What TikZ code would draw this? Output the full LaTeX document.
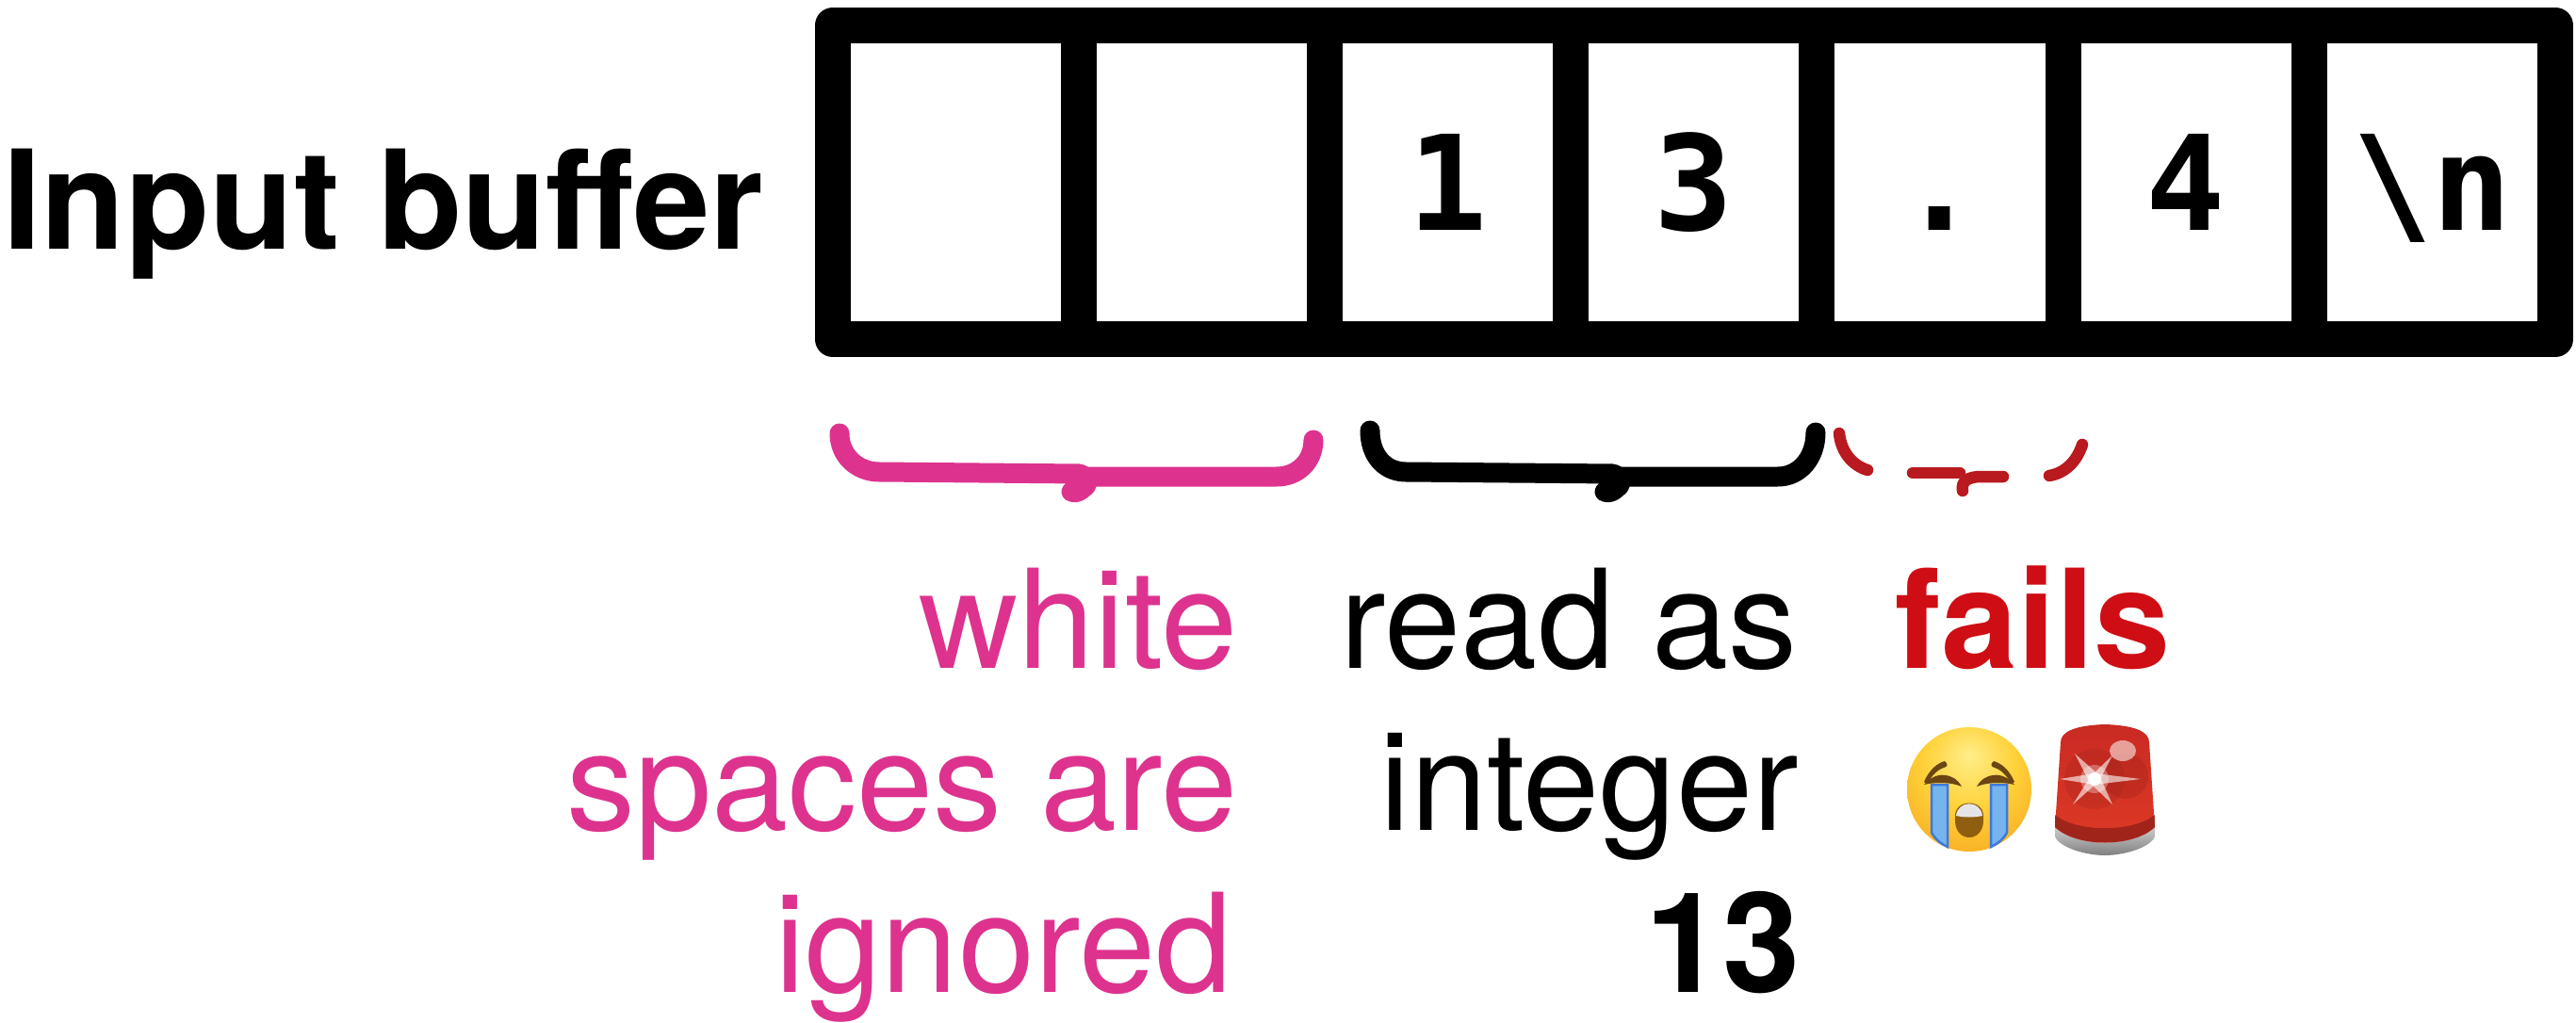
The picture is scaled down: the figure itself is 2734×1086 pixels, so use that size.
\documentclass[tikz,border=0pt]{standalone}
\usepackage{fontspec}
\setmainfont{TeX Gyre Heros}
\newfontfamily\cellfont{DejaVu Sans Mono}
\definecolor{pinkc}{HTML}{DD338E}
\definecolor{bracered}{HTML}{B81A1F}
\definecolor{failred}{HTML}{CF0D14}
\definecolor{fa}{HTML}{FFEE8A}
\definecolor{fb}{HTML}{FFD23A}
\definecolor{fc}{HTML}{F8AC22}
\definecolor{fd}{HTML}{D98C12}
\definecolor{browc}{HTML}{6B4612}
\definecolor{tearf}{HTML}{76B4EE}
\definecolor{teard}{HTML}{3D78DC}
\definecolor{mouthc}{HTML}{8F5E10}
\definecolor{sirtop}{HTML}{C92A22}
\definecolor{sirmid}{HTML}{D9463A}
\definecolor{sirlow}{HTML}{DE3A26}
\definecolor{sirband}{HTML}{8E1E18}
\pgfdeclareradialshading{facegrad}{\pgfpoint{0bp}{14bp}}{
 color(0bp)=(fa); color(18bp)=(fb); color(36bp)=(fc); color(52bp)=(fd); color(70bp)=(fd)}
\tikzset{
 cellbox/.style={draw=black,line width=38,line join=round,minimum width=261.2,minimum height=333,inner sep=0,text height=101,text depth=0,font=\cellfont\bfseries\fontsize{140}{140}\selectfont,align=center},
 bigtext/.style={anchor=base east,inner sep=0,font=\fontsize{146}{146}\selectfont},
 boldtext/.style={anchor=base east,inner sep=0,font=\bfseries\fontsize{148}{148}\selectfont},
 bracepink/.style={draw=pinkc,line width=21,line cap=round,line join=round},
 braceblack/.style={draw=black,line width=21,line cap=round,line join=round},
 bracefail/.style={draw=bracered,line width=12.5,line cap=round,line join=round},
 flare/.style={fill=white,opacity=.6}
}
\begin{document}
\begin{tikzpicture}[x=1pt,y=-1pt]
\useasboundingbox (0,0) rectangle (2734,1086);
% title
\node[anchor=base west,inner sep=0,font=\bfseries\fontsize{146}{146}\selectfont] (title) at (3,265) {Input buffer};
% cells
\node[cellbox] (c1) at (1014.3,193.5) {};
\node[cellbox] (c2) at (1275.3,193.5) {};
\node[cellbox] (c3) at (1536.5,193.5) {1};
\node[cellbox] (c4) at (1797.7,193.5) {3};
\node[cellbox] (c5) at (2058.9,193.5) {.};
\node[cellbox] (c6) at (2320.1,193.5) {4};
\node[cellbox] (c7) at (2581.8,193.5) {\textbackslash n};
% pink brace
\draw[bracepink] (891,460) .. controls (891,484) and (910,501) .. (933,501) -- (1146,503) .. controls (1156,507) and (1156,514) .. (1150,518) .. controls (1146,522) and (1141,524) .. (1137,522);
\draw[bracepink] (1394,467) .. controls (1394,490) and (1377,506) .. (1355,506) -- (1156,506);
% black brace
\draw[braceblack] (1454,457) .. controls (1454,484) and (1470,501) .. (1492,501) -- (1712,503) .. controls (1722,507) and (1722,514) .. (1716,518) .. controls (1712,522) and (1707,524) .. (1703,522);
\draw[braceblack] (1927,459) .. controls (1927,486) and (1910,506) .. (1887,506) -- (1720,506);
% failing brace
\draw[bracefail] (1952,460) .. controls (1954,480) and (1966,494) .. (1982,499);
\draw[bracefail] (2030,502) -- (2080,502);
\draw[bracefail] (2083,521) .. controls (2081,510) and (2090,506) .. (2103,506) -- (2126,506);
\draw[bracefail] (2210,472) .. controls (2204,490) and (2192,502) .. (2175,505);
% texts
\node[bigtext,text=pinkc] (w1) at (1314,709) {white};
\node[bigtext,text=pinkc] (w2) at (1314,881) {spaces are};
\node[bigtext,text=pinkc] (w3) at (1308,1053) {ignored};
\node[bigtext] (r1) at (1908,709) {read as};
\node[bigtext] (r2) at (1909,881) {integer};
\node[boldtext] (r3) at (1911,1053) {13};
\node[boldtext,text=failred,font=\bfseries\fontsize{146}{146}\selectfont] (f1) at (2304,709) {fails};
% crying face
\begin{scope}[shift={(2090,838)}]
\shade[shading=facegrad] (0,0) circle (66);
\fill[browc] (-48,-8) .. controls (-42,-22) and (-33,-28) .. (-26,-30) .. controls (-22,-27) and (-23,-24) .. (-27,-23) .. controls (-34,-21) and (-40,-14) .. (-45,-6) -- cycle;
\fill[browc] (48,-8) .. controls (42,-22) and (33,-28) .. (26,-30) .. controls (22,-27) and (23,-24) .. (27,-23) .. controls (34,-21) and (40,-14) .. (45,-6) -- cycle;
\fill[browc] (-48,-5) .. controls (-36,-20) and (-16,-18) .. (-8,-3) .. controls (-20,-8) and (-36,-8) .. (-48,-5) -- cycle;
\fill[browc] (48,-5) .. controls (36,-20) and (16,-18) .. (8,-3) .. controls (20,-8) and (36,-8) .. (48,-5) -- cycle;
\fill[tearf,draw=teard,line width=2.5] (-40,-5) -- (-23,-5) -- (-23,61) .. controls (-30,58) and (-36,53) .. (-40,46) -- cycle;
\fill[tearf,draw=teard,line width=2.5] (40,-5) -- (23,-5) -- (23,61) .. controls (30,58) and (36,53) .. (40,46) -- cycle;
\fill[mouthc] (-15,28) .. controls (-15,10) and (15,10) .. (15,28) -- (15,33) .. controls (15,57) and (-15,57) .. (-15,33) -- cycle;
\fill[white!90!black] (-14,28) .. controls (-12,11) and (12,11) .. (14,28) .. controls (5,30) and (-5,30) .. (-14,28) -- cycle;
\end{scope}
% siren
\begin{scope}[shift={(2234,838)}]
\shade[top color=black!20,bottom color=black!50] (-53,40) -- (-53,50) .. controls (-48,62) and (-20,70) .. (0,70) .. controls (20,70) and (48,62) .. (53,50) -- (53,40) .. controls (30,62) and (-30,62) .. (-53,40) -- cycle;
\shade[top color=sirtop,middle color=sirmid,bottom color=sirlow] (-47,-50) .. controls (-47,-62) and (-30,-68) .. (0,-69) .. controls (30,-68) and (47,-62) .. (47,-50) -- (53,40) .. controls (30,62) and (-30,62) .. (-53,40) -- cycle;
\fill[sirband,opacity=.75] (-53,27) .. controls (-30,46) and (30,46) .. (53,27) -- (53,40) .. controls (30,62) and (-30,62) .. (-53,40) -- cycle;
\fill[sirband,opacity=.2] (-11,-11) circle (32);
\fill[sirband,opacity=.25] (22,-14) ellipse (24 and 24);
\fill[white,opacity=.55] (19,-41) ellipse (14 and 11);
\fill[white,opacity=.3] (-11,-11) circle (15);
\fill[flare] (-48,-11) -- (-11,-17) -- (38,-11) -- (-11,-5) -- cycle;
\fill[flare] (-34,16) -- (-16,-13) -- (8,-36) -- (-6,-9) -- cycle;
\fill[flare] (-32,-38) -- (-6,-15) -- (8,16) -- (-16,-7) -- cycle;
\fill[white] (-11,-11) circle (7);
\end{scope}
\end{tikzpicture}
\end{document}
